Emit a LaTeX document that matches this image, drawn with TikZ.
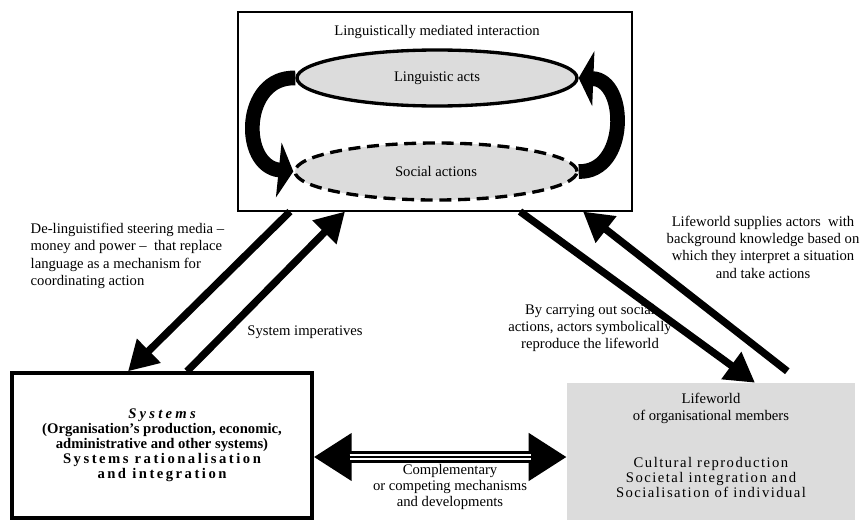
\documentclass[tikz,border=0pt]{standalone}
\usepackage{fontspec}
\setmainfont{Liberation Serif}
\usetikzlibrary{shapes.geometric,arrows.meta}
\definecolor{boxgrey}{RGB}{220,220,220}
\newcommand{\spread}[2]{{\addfontfeature{LetterSpace=#1}#2}}

\begin{document}
\begin{tikzpicture}[x=0.75pt, y=-0.75pt, font=\fontsize{11}{13}\selectfont,
	box/.style = {draw, line width=0.8pt, inner sep=0pt},
	oval/.style = {ellipse, draw, fill=boxgrey, line width=2.5pt, inner sep=0pt},
	loop/.style = {line width=11pt, -{Triangle[length=11pt, width=41pt]}},
	big/.style = {line width=5.5pt, -{Triangle[length=22pt, width=24pt]}},
	twin/.style = {line width=9.5pt, {Triangle[length=28.5pt, width=34pt]}-{Triangle[length=28.5pt, width=34pt]}}]
\useasboundingbox (0,0) rectangle (862,521);

% interaction box
\node[box, minimum width=295.5pt, minimum height=149.25pt] (top) at (435,111.5) {};
\node (title) at (437,32) {Linguistically mediated interaction};
\node[oval, minimum width=210pt, minimum height=42pt] (acts) at (437,78) {Linguistic acts};
\node[oval, dash pattern=on 9pt off 5pt, minimum width=211.5pt, minimum height=42.75pt] (social) at (436,171.5) {Social actions};
\draw[loop] (acts.west) .. controls (242,76) and (240,166) .. (social.west);
\draw[loop] (social.east) .. controls (628,173) and (628,80) .. (acts.east);

% systems and lifeworld
\node[draw, line width=2.5pt, minimum width=225pt, minimum height=108.75pt, align=center,
	font=\bfseries\fontsize{11}{11.3}\selectfont] (sys) at (162,445.5)
	{{\itshape\spread{22}{Systems}}\\(Organisation's production, economic,\\administrative and other systems)\\\spread{17}{Systems rationalisation}\\\spread{17}{and integration}};
\node[fill=boxgrey, minimum width=216pt, minimum height=102.75pt] (life) at (711,451.5) {};
\node[align=center] (lwhead) at (711,408.5) {Lifeworld\\of organisational members};
\node[align=center, font=\fontsize{11}{11.6}\selectfont] (lwbody) at (711,477.5)
	{\spread{10}{Cultural reproduction}\\\spread{10}{Societal integration and}\\\spread{10}{Socialisation of individual}};

% arrows
\draw[big] (top.south -| 290,0) -- (sys.north -| 128,0);
\draw[big] (sys.north -| 187,0) -- (top.south -| 345,0);
\draw[big] (top.south -| 520,0) -- (life.north -| 755,0);
\draw[big, shorten <=14pt] (life.north -| 802,0) -- (top.south -| 583,0);

\coordinate (mid) at (440,457);
\draw[twin] (sys.east |- mid) -- (life.west |- mid);
\draw[white, line width=5pt, shorten <=27pt, shorten >=27pt] (sys.east |- mid) -- (life.west |- mid);
\draw[line width=1.7pt, shorten <=27pt, shorten >=27pt] (sys.east |- mid) -- (life.west |- mid);

% labels
\node[align=left, anchor=west] (media) at (26,256) {De-linguistified steering media --\\money and power -- \ that replace\\language as a mechanism for\\coordinating action};
\node (imp) at (305,332) {System imperatives};
\node[align=center] (carry) at (590,328) {By carrying out social\\actions, actors symbolically\\reproduce the lifeworld};
\node[align=center] (supply) at (763,247) {Lifeworld supplies actors \ with\\background knowledge based on\\which they interpret a situation\\and take actions};
\node[align=center, font=\fontsize{11}{12}\selectfont] (mech) at (450,487) {Complementary\\or competing mechanisms\\and developments};
\end{tikzpicture}
\end{document}
